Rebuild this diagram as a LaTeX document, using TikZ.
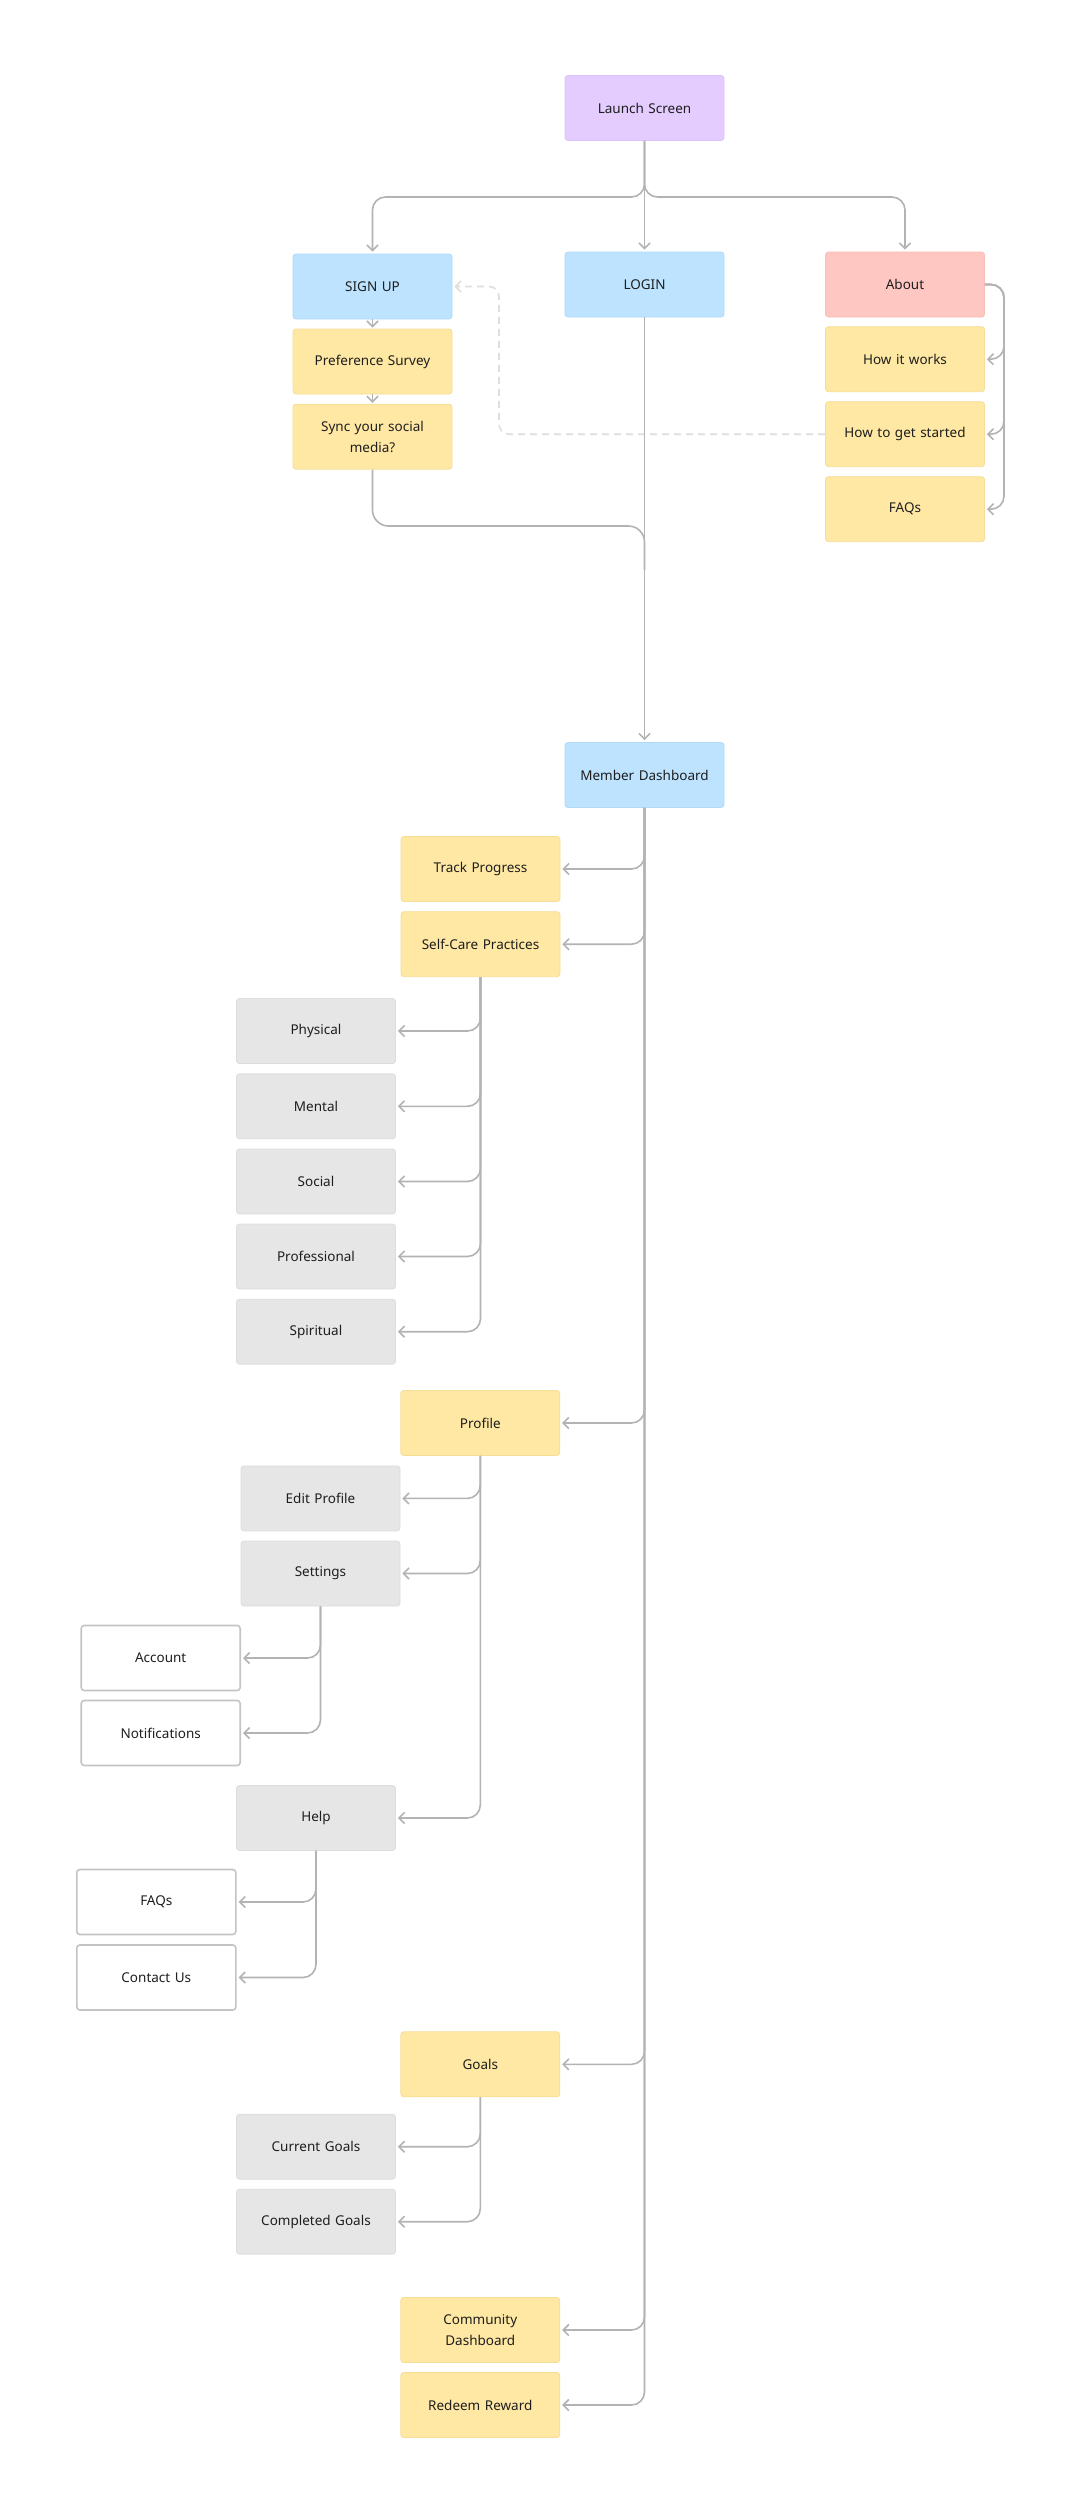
\documentclass[tikz,border=0pt]{standalone}
\usepackage{fontspec}
\setmainfont{Noto Sans}
\usetikzlibrary{arrows.meta,calc}
\definecolor{lavender}{HTML}{E4CCFF}
\definecolor{lavline}{HTML}{DCC2FA}
\definecolor{bluefill}{HTML}{BDE3FF}
\definecolor{blueline}{HTML}{B0DAFA}
\definecolor{pinkfill}{HTML}{FFC7C2}
\definecolor{pinkline}{HTML}{F8BDB8}
\definecolor{yelfill}{HTML}{FFE8A3}
\definecolor{yelline}{HTML}{F6DD95}
\definecolor{grayfill}{HTML}{E6E6E6}
\definecolor{grayline}{HTML}{DDDDDD}
\definecolor{wline}{HTML}{C4C4C4}
\definecolor{conncol}{HTML}{B3B3B3}
\definecolor{dashcol}{HTML}{DEDEDE}
\definecolor{txt}{HTML}{1E1E1E}
\tikzset{
  box/.style={rectangle, rounded corners=3pt, minimum width=159pt, minimum height=65pt,
    inner sep=0pt, align=center, text width=140pt, font=\fontsize{13.5}{21}\selectfont, text=txt, line width=0.8pt},
  launchbox/.style={box, fill=lavender, draw=lavline},
  bluebox/.style={box, fill=bluefill, draw=blueline},
  pinkbox/.style={box, fill=pinkfill, draw=pinkline},
  yelbox/.style={box, fill=yelfill, draw=yelline},
  graybox/.style={box, fill=grayfill, draw=grayline},
  whitebox/.style={box, fill=white, draw=wline, line width=1.6pt},
  conn/.style={draw=conncol, line width=1.6pt, rounded corners=13pt},
  arr/.style={conn, -{Straight Barb[length=5.5pt,width=11pt]}, shorten >=2pt},
  dasharr/.style={draw=dashcol, line width=1.6pt, dash pattern=on 7pt off 5pt, rounded corners=10pt,
    -{Straight Barb[length=5.5pt,width=11pt]}, shorten >=2pt},
}
\begin{document}
\begin{tikzpicture}[x=1pt,y=-1pt]
\fill[white] (0,0) rectangle (1080,2513);
\useasboundingbox (0,0) rectangle (1080,2513);

% top section
\node[launchbox] (launch) at (644.5,108) {Launch Screen};
\node[bluebox] (signup) at (372.5,286.5) {SIGN UP};
\node[bluebox] (login) at (644.5,284.5) {LOGIN};
\node[pinkbox] (about) at (905,284.5) {About};
\node[yelbox] (survey) at (372.5,361.5) {Preference Survey};
\node[yelbox] (sync) at (372.5,436.7) {Sync your social\\media?};
\node[yelbox] (hiw) at (905,359.2) {How it works};
\node[yelbox] (htgs) at (905,434.2) {How to get started};
\node[yelbox] (faqsa) at (905,509.2) {FAQs};

% dashboard
\node[bluebox] (md) at (644.5,775) {Member Dashboard};
\node[yelbox] (track) at (480.5,869) {Track Progress};
\node[yelbox] (selfcare) at (480.5,944.2) {Self-Care Practices};
\node[graybox] (physical) at (316,1031) {Physical};
\node[graybox] (mental) at (316,1106.3) {Mental};
\node[graybox] (social) at (316,1181.5) {Social};
\node[graybox] (professional) at (316,1256.5) {Professional};
\node[graybox] (spiritual) at (316,1331.7) {Spiritual};

\node[yelbox] (profile) at (480.3,1423) {Profile};
\node[graybox] (editprofile) at (320.5,1498.4) {Edit Profile};
\node[graybox] (settings) at (320.5,1573.5) {Settings};
\node[whitebox] (account) at (160.7,1658) {Account};
\node[whitebox] (notif) at (160.7,1733) {Notifications};
\node[graybox] (help) at (316,1818) {Help};
\node[whitebox] (faqsb) at (156.3,1902) {FAQs};
\node[whitebox] (contact) at (156.3,1977.5) {Contact Us};

\node[yelbox] (goals) at (480.3,2064.3) {Goals};
\node[graybox] (current) at (316,2146.7) {Current Goals};
\node[graybox] (completed) at (316,2221.7) {Completed Goals};
\node[yelbox] (community) at (480.3,2330) {Community\\Dashboard};
\node[yelbox] (redeem) at (480.3,2405) {Redeem Reward};

% helper coordinates
\coordinate (lsL) at (372.5,197);
\coordinate (lsR) at (905,197);
\coordinate (aboutR) at (1004,284.5);
\coordinate (dcorner) at (499,286.5);
\coordinate (syncj) at (644.5,526);
\coordinate (merge) at (644.5,570);

% launch connectors
\draw[arr] (launch.south) |- (lsL) -- (signup.north);
\draw[arr] (launch.south) |- (lsR) -- (about.north);
\draw[arr] (launch.south) -- (login.north);

% signup chain
\draw[arr, shorten >=1pt] (signup.south) -- (survey.north);
\draw[arr, shorten >=1pt] (survey.south) -- (sync.north);
\draw[conn, rounded corners=16pt] (sync.south) |- (syncj) -- (merge);

% about chain
\draw[arr] (about.east) -- (aboutR) |- (hiw.east);
\draw[arr] (about.east) -- (aboutR) |- (htgs.east);
\draw[arr] (about.east) -- (aboutR) |- (faqsa.east);

% dashed
\draw[dasharr] (htgs.west) -| (dcorner) -- (signup.east);

% login to dashboard
\draw[arr] (login.south) -- (md.north);

% dashboard main line
\foreach \t in {track,selfcare,profile,goals,community,redeem}
  \draw[arr] (md.south) |- (\t.east);

% self care
\foreach \t in {physical,mental,social,professional,spiritual}
  \draw[arr] (selfcare.south) |- (\t.east);

% profile
\foreach \t in {editprofile,settings,help}
  \draw[arr] (profile.south) |- (\t.east);
\foreach \t in {account,notif}
  \draw[arr] (settings.south) |- (\t.east);
\foreach \t in {faqsb,contact}
  \draw[arr] (help.south) |- (\t.east);

% goals
\foreach \t in {current,completed}
  \draw[arr] (goals.south) |- (\t.east);
\end{tikzpicture}
\end{document}
